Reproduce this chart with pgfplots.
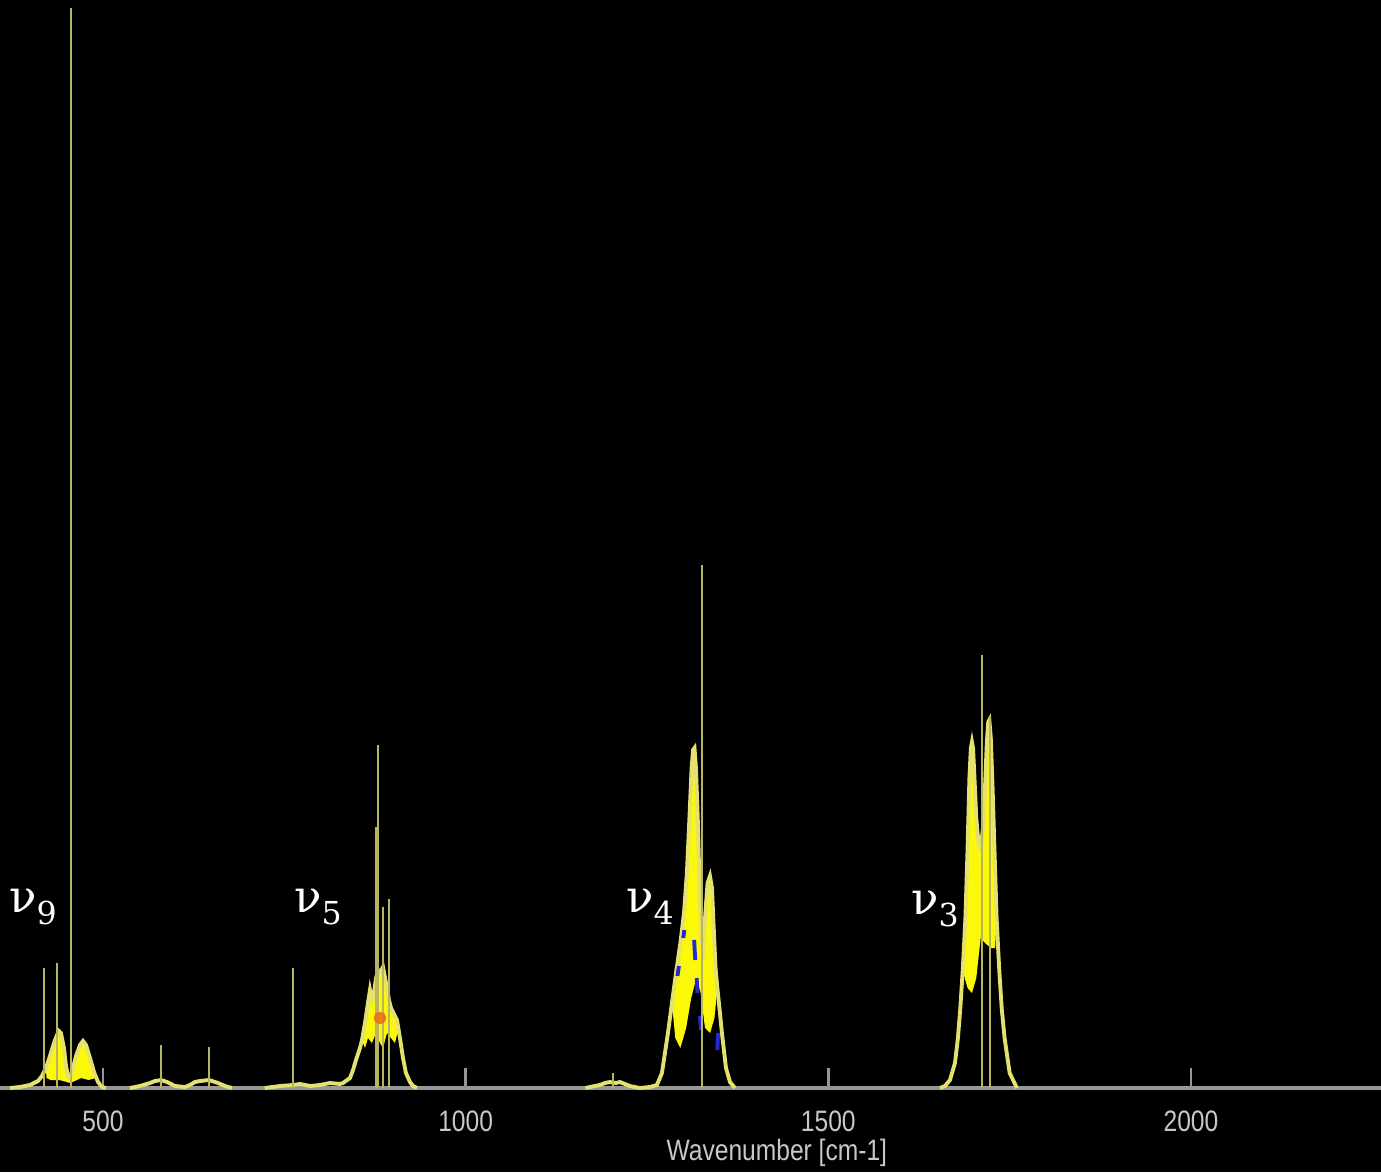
\documentclass[border=0pt]{standalone}
\usepackage{pgfplots}
\pgfplotsset{compat=1.18}
\usepackage{fontspec}
\setmainfont{Liberation Sans}
\newfontfamily\nufont{DejaVu Serif}
\usepackage{graphicx}
\definecolor{bandyellow}{RGB}{252,248,10}
\definecolor{outlineyellow}{RGB}{228,225,110}
\definecolor{stickolive}{RGB}{185,180,95}
\definecolor{axisgray}{RGB}{150,150,150}
\definecolor{labelgray}{RGB}{200,200,200}
\definecolor{spotorange}{RGB}{235,110,20}
\definecolor{spotblue}{RGB}{40,40,210}
\newcommand{\sy}[1]{\scalebox{1}[1.2]{#1}}
\newcommand{\nulab}[1]{{\nufont\fontsize{12.8}{15}\selectfont ν\raisebox{-0.28em}{\fontsize{9}{11}\selectfont #1}}}
\begin{document}
\begin{tikzpicture}
\path[use as bounding box, fill=black] (0,0) rectangle (13.81,11.72);
\begin{axis}[at={(0,0.84cm)}, anchor=south west, scale only axis,
  width=13.81cm, height=10.88cm,
  xmin=358, xmax=2262, ymin=0, ymax=1088,
  axis x line=bottom, axis y line=none,
  x axis line style={-, draw=axisgray, line width=0.9pt},
  xtick={500,1000,1500,2000},
  xticklabels={\sy{500},\sy{1000},\sy{1500},\sy{2000}},
  tick align=inside, major tick length=0.2cm,
  xtick style={draw=axisgray, line width=0.7pt},
  xticklabel style={font=\fontsize{7}{8}\selectfont, text=labelgray, yshift=-0.1cm},
  clip=false]
% --- filled dense parts of the bands
\addplot[fill=bandyellow, draw=none] coordinates {
 (421.4,20) (426.9,32) (432.4,45) (436.6,53) (439.3,57) (442,55) (446.2,40) (449.0,22) (451.7,12) (454.5,10) (457.3,16) (462.8,32) (468.3,43) (472.4,47) (476.6,43) (482.1,30) (487.6,16) (490,10)
 (480,8) (470,10) (455,5) (440,8) (428,8) (422,10)} -- cycle;
\addplot[fill=bandyellow, draw=none] coordinates {
 (857.1,48) (861.2,65) (865.3,85) (868.1,98) (870.8,88) (873.6,95) (876.4,110) (879.1,118) (881.9,115) (886.0,121) (888.8,110) (891.5,100) (894.3,88) (897.0,80) (899.8,76) (902.5,72) (905.3,68) (907,58)
 (902.5,45) (897.0,50) (891.5,55) (886.0,40) (881.9,45) (876.4,55) (870.8,45) (865.3,50) (861.2,40)} -- cycle;
\addplot[fill=bandyellow, draw=none] coordinates {
 (1284.4,85) (1290,115) (1296,145) (1301,175) (1305,215) (1308.5,270) (1311.5,320) (1313.5,338) (1315.5,340) (1317.5,320) (1320,270) (1322.5,200) (1325,150) (1327.5,140) (1330.5,175) (1333.5,205) (1336.8,212) (1339.6,200) (1342,160) (1344.5,120) (1347,100)
 (1343,70) (1337,55) (1330,60) (1324,95) (1318,110) (1311,90) (1304,60) (1296,40) (1289,50)} -- cycle;
\addplot[fill=bandyellow, draw=none] coordinates {
 (1685.5,120) (1689,170) (1692,240) (1694.5,310) (1696.5,340) (1698.0,346) (1699.5,340) (1701.5,310) (1704,270) (1707,245) (1710,240) (1713,258) (1716,300) (1718.5,345) (1720.5,366) (1722,368) (1724,350) (1726.5,300) (1729,240) (1732,170)
 (1730,140) (1724,140) (1716,145) (1710,150) (1704,110) (1698,95) (1692,100) (1688,110)} -- cycle;
% --- band envelopes
\addplot[outlineyellow, line width=1.1pt] coordinates {
 (371.8,0) (385.6,1) (399.4,3) (410.4,7) (415.9,12) (421.4,20) (426.9,32) (432.4,45) (436.6,53) (439.3,57) (442,55) (446.2,40) (449.0,22) (451.7,12) (454.5,10) (457.3,16) (462.8,32) (468.3,43) (472.4,47) (476.6,43) (482.1,30) (487.6,16) (493.1,6) (498.6,1) (504,0)};
\addplot[outlineyellow, line width=1.1pt] coordinates {
 (537,0) (551.0,2) (564.8,5) (571.7,7) (580.0,8) (588.2,6) (599.3,2) (613.0,1) (619.9,3) (626.8,6) (633.7,7) (646.1,8) (658.5,5) (668.2,2) (677.8,0)};
\addplot[outlineyellow, line width=1.1pt] coordinates {
 (723,0) (744.0,2) (761.9,3) (771.6,4) (785.4,2) (799.2,3) (812.9,5) (826.7,4) (830.9,5) (840.5,10) (844.7,18) (848.8,28) (854.3,40) (857.1,48) (861.2,65) (865.3,85) (868.1,98) (870.8,88) (873.6,95) (876.4,110) (879.1,118) (881.9,115) (886.0,121) (888.8,110) (891.5,100) (894.3,88) (897.0,80) (899.8,76) (902.5,72) (905.3,68) (909.4,50) (913.6,30) (917.7,15) (923.2,6) (927.4,2) (932.9,0)};
\addplot[outlineyellow, line width=1.1pt] coordinates {
 (1165,0) (1171.4,1) (1185.2,3) (1192.1,5) (1199.0,6) (1207.2,5) (1212.7,6) (1219.6,4) (1226.5,2) (1240.3,0) (1254.1,1) (1263.7,3) (1270.6,15) (1278.9,55) (1284.4,85) (1290,115) (1296,145) (1301,175) (1305,215) (1308.5,270) (1311.5,320) (1313.5,338) (1315.5,340) (1317.5,320) (1320,270) (1322.5,200) (1325,150) (1327.5,140) (1330.5,175) (1333.5,205) (1336.8,212) (1339.6,200) (1342,160) (1344.5,120) (1347,100) (1350.6,75) (1353.3,55) (1358.9,20) (1364.4,6) (1371.3,0)};
\addplot[outlineyellow, line width=1.1pt] coordinates {
 (1653.9,0) (1660.8,2) (1667.7,8) (1674.6,25) (1678.7,50) (1682,80) (1685.5,120) (1689,170) (1692,240) (1694.5,310) (1696.5,340) (1698.0,346) (1699.5,340) (1701.5,310) (1704,270) (1707,245) (1710,240) (1713,258) (1716,300) (1718.5,345) (1720.5,366) (1722,368) (1724,350) (1726.5,300) (1729,240) (1732,170) (1735.5,120) (1739,80) (1743,50) (1750,15) (1760,0)};
% --- coloured spots
\addplot[spotblue, line width=1.1pt, unbounded coords=jump] coordinates {
 (1292,112) (1294,122) (1295,nan) (1300,150) (1301.5,158) (1302,nan) (1315,148) (1316.5,128) (1317.5,nan) (1318.5,110) (1319.5,95) (1320,nan) (1323,72) (1324.5,58) (1325,nan) (1347,38) (1348,55)};
\addplot[only marks, mark=*, mark size=1.6pt, spotorange, opacity=0.85] coordinates {(881.9,70)};
% --- stick lines
\addplot[ycomb, stickolive, line width=0.75pt, mark=none] coordinates {
 (418.7,120) (436.6,125) (455.9,1080) (580.0,43) (646.1,41) (761.9,120)
 (876.4,261) (879.1,343) (886.0,181) (894.3,189) (1203.1,15)
 (1325.8,523) (1711.8,433) (1722.8,371)};
% --- labels
\node[text=white] at (axis cs:403.5,181) {\nulab{9}};
\node[text=white] at (axis cs:796.4,181) {\nulab{5}};
\node[text=white] at (axis cs:1254.1,181) {\nulab{4}};
\node[text=white] at (axis cs:1647,179) {\nulab{3}};
\node[text=labelgray, font=\fontsize{7}{8}\selectfont] at (axis cs:1429,0) [yshift=-0.65cm] {\sy{Wavenumber [cm-1]}};
\end{axis}
\end{tikzpicture}
\end{document}
